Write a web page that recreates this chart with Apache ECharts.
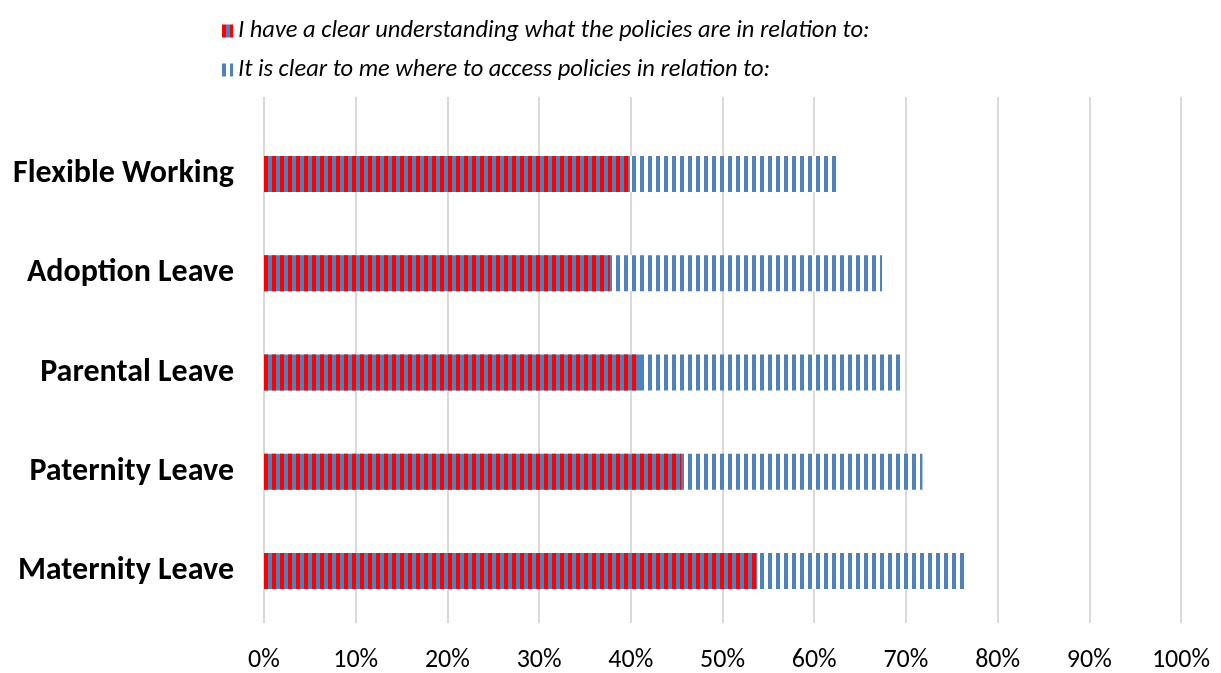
<!DOCTYPE html>
<html>
<head>
<meta charset="utf-8">
<script src="https://cdn.jsdelivr.net/npm/echarts@6/dist/echarts.min.js"></script>
<style>
html,body{margin:0;padding:0;background:#fff;}
#chart{width:1221px;height:673px;}
</style>
</head>
<body>
<div id="chart"></div>
<script>
var categories = ['Flexible Working','Adoption Leave','Parental Leave','Paternity Leave','Maternity Leave'];
var understandValues = [39.9, 37.7, 41.0, 45.5, 53.8];
var accessValues = [62.6, 67.4, 69.5, 71.8, 76.5];
var seriesNames = ['I have a clear understanding what the policies are in relation to:', 'It is clear to me where to access policies in relation to:'];
var tickValues = [0,10,20,30,40,50,60,70,80,90,100];

function stripe(fg, bg){
  var c = document.createElement('canvas');
  c.width = 8; c.height = 4;
  var ctx = c.getContext('2d');
  if (bg) { ctx.fillStyle = bg; ctx.fillRect(0,0,8,4); }
  ctx.fillStyle = fg; ctx.fillRect(0,0,4,4);
  return {image: c, repeat: 'repeat'};
}
var blue = '#4F81BD', red = '#FF0000';
var redPattern = stripe(red, blue);
var bluePattern = stripe(blue, '#ffffff');

var chart = echarts.init(document.getElementById('chart'), null, {renderer:'canvas'});
var font = 'Carlito, Calibri, Lato, "Open Sans", sans-serif';
chart.setOption({
  animation: false,
  backgroundColor: '#fff',
  textStyle: {fontFamily: font},
  legend: {
    data: [seriesNames[0], seriesNames[1]],
    orient: 'vertical',
    left: 222, top: 17, padding: 0,
    icon: 'rect',
    itemWidth: 11, itemHeight: 13, itemGap: 11,
    textStyle: {fontSize: 24.5, fontStyle: 'italic', color: '#000', fontFamily: font, lineHeight: 28},
    selectedMode: false
  },
  grid: [
    {left: 264, right: 40, top: 124.5, bottom: 52.5, containLabel: false},
    {left: 264, right: 40, top: 97, bottom: 45, containLabel: false}
  ],
  xAxis: [
    {gridIndex: 0, type: 'value', min: 0, max: 100, interval: 10, show: false},
    {gridIndex: 1, type: 'value', min: 0, max: 100, interval: 10,
     axisLine: {show: false}, axisTick: {show: false},
     splitLine: {show: true, lineStyle: {color: '#D9D9D9', width: 2}},
     axisLabel: {formatter: function(v){ return tickValues.indexOf(v) >= 0 ? v + '%' : ''; }, fontSize: 26, color: '#000', margin: 24, fontFamily: font}}
  ],
  yAxis: [
    {gridIndex: 0, type: 'category', data: categories, inverse: true,
     axisLine: {show: false}, axisTick: {show: false},
     axisLabel: {fontSize: 32, fontWeight: 'bold', color: '#000', margin: 30, fontFamily: font, padding: [5, 0, 0, 0]}},
    {gridIndex: 1, type: 'category', data: categories, show: false}
  ],
  series: [
    {name: seriesNames[1], type: 'bar', xAxisIndex: 0, yAxisIndex: 0, data: accessValues, barWidth: 36, barGap: '-100%',
     itemStyle: {color: bluePattern}},
    {name: seriesNames[0], type: 'bar', xAxisIndex: 0, yAxisIndex: 0, data: understandValues, barWidth: 36, barGap: '-100%',
     itemStyle: {color: redPattern}}
  ]
});
</script>
</body>
</html>
